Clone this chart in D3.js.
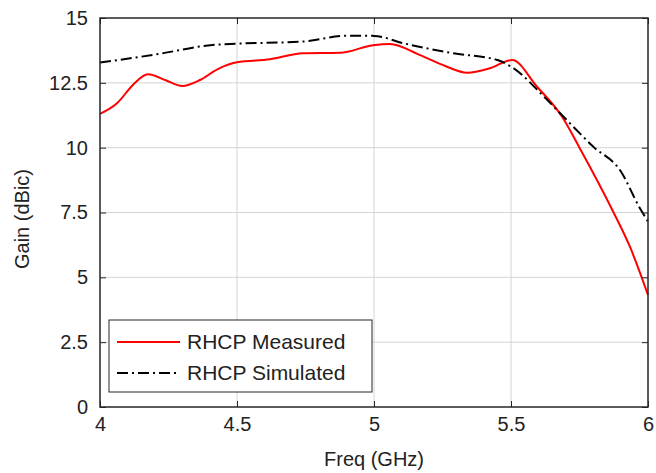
<!DOCTYPE html>
<html>
<head>
<meta charset="utf-8">
<script src="https://cdn.jsdelivr.net/npm/d3@7"></script>
<style>
  body { margin: 0; background: #fff; }
  text { font-family: "Liberation Sans", Arial, sans-serif; fill: #222; }
</style>
</head>
<body>
<div id="chart"></div>
<script>
// measured gain (RHCP)
const measFreq = [4.0, 4.062, 4.12, 4.175, 4.24, 4.3, 4.365, 4.43, 4.5, 4.62, 4.74, 4.876, 4.996, 5.058, 5.168, 5.26, 5.34, 5.42, 5.504, 5.595, 5.686, 5.75, 5.873, 5.934, 6.0];
const measGain = [11.3, 11.71, 12.42, 12.83, 12.6, 12.38, 12.61, 13.03, 13.29, 13.41, 13.64, 13.66, 13.95, 14.0, 13.57, 13.15, 12.89, 13.05, 13.38, 12.35, 11.2, 10.0, 7.53, 6.18, 4.32];

// simulated gain (RHCP)
const simFreq = [4.0, 4.207, 4.41, 4.5, 4.74, 4.9, 5.0, 5.11, 5.29, 5.45, 5.51, 5.62, 5.715, 5.8, 5.9, 5.97, 6.0];
const simGain = [13.28, 13.6, 13.96, 14.01, 14.09, 14.32, 14.31, 14.02, 13.64, 13.38, 13.06, 11.97, 10.94, 10.04, 9.1, 7.67, 7.15];

const xTicks = [4, 4.5, 5, 5.5, 6];
const yTicks = [0, 2.5, 5, 7.5, 10, 12.5, 15];
const legendLabels = ['RHCP Measured', 'RHCP Simulated'];

const width = 656, height = 473;
const margin = { top: 18, right: 8, bottom: 66, left: 100 };
const innerW = width - margin.left - margin.right;
const innerH = height - margin.top - margin.bottom;

const svg = d3.select('#chart').append('svg')
  .attr('width', width)
  .attr('height', height);

const g = svg.append('g').attr('transform', `translate(${margin.left},${margin.top})`);

const x = d3.scaleLinear().domain([4, 6]).range([0, innerW]);
const y = d3.scaleLinear().domain([0, 15]).range([innerH, 0]);

// grid
g.selectAll('.vgrid').data(xTicks.slice(1, -1)).enter().append('line')
  .attr('x1', d => x(d)).attr('x2', d => x(d))
  .attr('y1', 0).attr('y2', innerH)
  .attr('stroke', '#d4d4d4').attr('stroke-width', 1);
g.selectAll('.hgrid').data(yTicks.slice(1, -1)).enter().append('line')
  .attr('x1', 0).attr('x2', innerW)
  .attr('y1', d => y(d)).attr('y2', d => y(d))
  .attr('stroke', '#d4d4d4').attr('stroke-width', 1);

// lines
const line = (fx, fy) => d3.line()
  .x((d, i) => x(fx[i]))
  .y((d, i) => y(fy[i]))
  .curve(d3.curveMonotoneX);

g.append('path')
  .datum(measFreq)
  .attr('d', line(measFreq, measGain))
  .attr('fill', 'none')
  .attr('stroke', '#ff0000')
  .attr('stroke-width', 2);

g.append('path')
  .datum(simFreq)
  .attr('d', line(simFreq, simGain))
  .attr('fill', 'none')
  .attr('stroke', '#000')
  .attr('stroke-width', 2)
  .attr('stroke-dasharray', '11,4,2,4');

// axes (ticks pointing inward, mirrored on top/right)
const axisStyle = sel => {
  sel.select('.domain').remove();
  sel.selectAll('line').attr('stroke', '#262626');
  sel.selectAll('text').style('font-size', '20px').attr('fill', '#222');
};

g.append('g')
  .attr('transform', `translate(0,${innerH})`)
  .call(d3.axisBottom(x).tickValues(xTicks).tickSizeInner(-6).tickSizeOuter(0).tickPadding(10).tickFormat(d3.format('')))
  .call(axisStyle);

g.append('g')
  .call(d3.axisTop(x).tickValues(xTicks).tickSizeInner(-6).tickSizeOuter(0).tickFormat(''))
  .call(axisStyle);

g.append('g')
  .call(d3.axisLeft(y).tickValues(yTicks).tickSizeInner(-6).tickSizeOuter(0).tickPadding(12).tickFormat(d3.format('')))
  .call(axisStyle);

g.append('g')
  .attr('transform', `translate(${innerW},0)`)
  .call(d3.axisRight(y).tickValues(yTicks).tickSizeInner(-6).tickSizeOuter(0).tickFormat(''))
  .call(axisStyle);

// box
g.append('rect')
  .attr('width', innerW).attr('height', innerH)
  .attr('fill', 'none').attr('stroke', '#262626').attr('stroke-width', 1.5);

// axis labels
svg.append('text')
  .attr('x', margin.left + innerW / 2).attr('y', 466)
  .attr('text-anchor', 'middle')
  .style('font-size', '20px')
  .text('Freq (GHz)');

svg.append('text')
  .attr('transform', `translate(29,219) rotate(-90)`)
  .attr('text-anchor', 'middle')
  .style('font-size', '20px')
  .text('Gain (dBic)');

// legend
const lg = svg.append('g').attr('transform', 'translate(109,320)');
lg.append('rect')
  .attr('width', 263).attr('height', 72)
  .attr('fill', '#fff').attr('stroke', '#262626').attr('stroke-width', 1);

const legendStyles = [
  { color: '#ff0000', dash: null },
  { color: '#000', dash: '11,4,2,4' }
];
legendLabels.forEach((label, i) => {
  const yy = 22 + i * 31;
  lg.append('line')
    .attr('x1', 8).attr('x2', 71).attr('y1', yy).attr('y2', yy)
    .attr('stroke', legendStyles[i].color).attr('stroke-width', 2)
    .attr('stroke-dasharray', legendStyles[i].dash);
  lg.append('text')
    .attr('x', 78).attr('y', yy + 7)
    .style('font-size', '21px')
    .text(label);
});
</script>
</body>
</html>
